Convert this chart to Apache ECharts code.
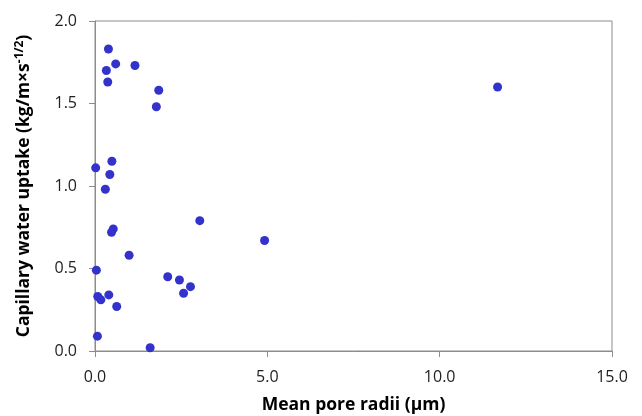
<!DOCTYPE html>
<html>
<head>
<meta charset="utf-8">
<script src="https://cdn.jsdelivr.net/npm/echarts@6/dist/echarts.min.js"></script>
<style>
  html, body { margin: 0; padding: 0; background: #fff; }
  #chart { width: 642px; height: 416px; }
</style>
</head>
<body>
<div id="chart"></div>
<script>
// mean pore radius (um) and capillary water uptake
var poreRadii = [0.39, 0.60, 1.16, 0.33, 0.37, 1.85, 1.78, 0.02, 0.49, 0.43, 0.30,
                 0.53, 0.48, 3.04, 4.92, 0.99, 0.04, 2.11, 2.45, 2.77, 2.57, 0.08,
                 0.17, 0.40, 0.63, 0.07, 1.60, 11.68];
var waterUptake = [1.83, 1.74, 1.73, 1.70, 1.63, 1.58, 1.48, 1.11, 1.15, 1.07, 0.98,
                   0.74, 0.72, 0.79, 0.67, 0.58, 0.49, 0.45, 0.43, 0.39, 0.35, 0.33,
                   0.31, 0.34, 0.27, 0.09, 0.02, 1.60];
var xTicks = [0, 5, 10, 15];
var yTicks = [0, 0.5, 1.0, 1.5, 2.0];

var points = poreRadii.map(function (x, i) { return [x, waterUptake[i]]; });

var chart = echarts.init(document.getElementById('chart'));
var font = '"Open Sans", "Liberation Sans", sans-serif';
var axisGray = '#8c8c8c';

chart.setOption({
    animation: false,
    grid: {
        left: 95, right: 30, top: 21, bottom: 65,
        outerBoundsMode: 'none',
        show: true, borderColor: axisGray, borderWidth: 1
    },
    xAxis: {
        type: 'value',
        min: xTicks[0],
        max: xTicks[xTicks.length - 1],
        interval: xTicks[1] - xTicks[0],
        name: 'Mean pore radii (\u03bcm)',
        nameLocation: 'middle',
        nameGap: 45,
        nameTextStyle: { fontFamily: font, fontSize: 17.5, fontWeight: 'bold', color: '#000' },
        axisLine: { lineStyle: { color: axisGray } },
        axisTick: { show: true, length: 6, lineStyle: { color: axisGray } },
        axisLabel: {
            margin: 18, fontFamily: font, fontSize: 16, color: '#222',
            formatter: function (v) { return v.toFixed(1); }
        },
        splitLine: { show: false }
    },
    yAxis: {
        type: 'value',
        min: yTicks[0],
        max: yTicks[yTicks.length - 1],
        interval: yTicks[1] - yTicks[0],
        name: 'Capillary water uptake (kg/m\u00d7s{sup|-1/2})',
        nameLocation: 'middle',
        nameGap: 60,
        nameTextStyle: {
            fontFamily: font, fontSize: 17.5, fontWeight: 'bold', color: '#000',
            rich: { sup: { fontFamily: font, fontSize: 12, fontWeight: 'bold', color: '#000', verticalAlign: 'top', padding: [0, 0, 9, 0] } }
        },
        axisLine: { show: true, lineStyle: { color: axisGray } },
        axisTick: { show: true, length: 6, lineStyle: { color: axisGray } },
        axisLabel: {
            margin: 18, fontFamily: font, fontSize: 16, color: '#222',
            formatter: function (v) { return v.toFixed(1); }
        },
        splitLine: { show: false }
    },
    series: [{
        type: 'scatter',
        data: points,
        symbolSize: 9,
        itemStyle: { color: '#3333cc', opacity: 1 }
    }]
});
</script>
</body>
</html>
